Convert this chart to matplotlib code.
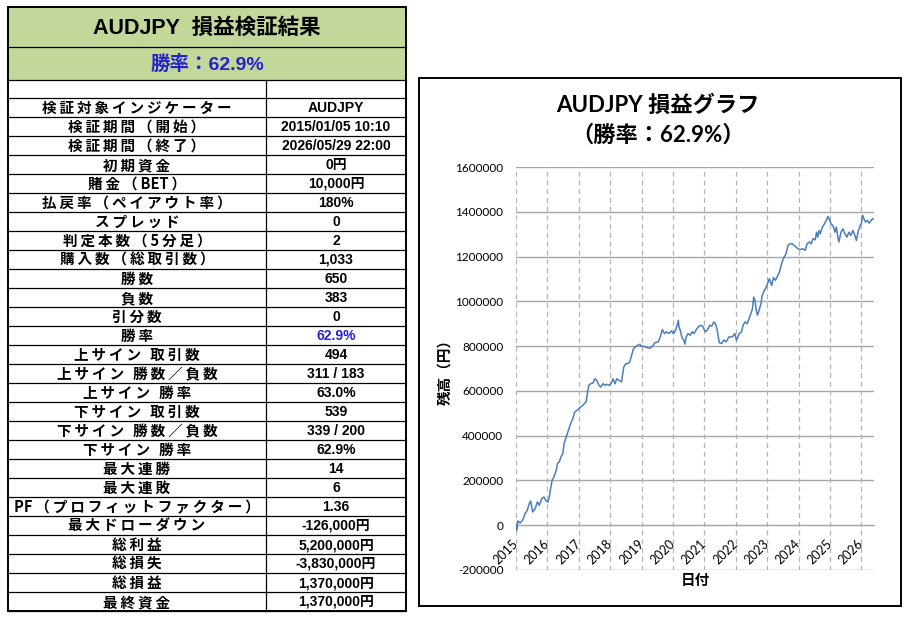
import matplotlib
matplotlib.use('Agg')
import matplotlib.pyplot as plt
from matplotlib.patches import Rectangle

# --- table data ---
title_text = 'AUDJPY  損益検証結果'
winrate_text = '勝率：62.9%'
row_labels = [
    '検証対象インジケーター', '検証期間（開始）', '検証期間（終了）', '初期資金',
    '賭金（BET）', '払戻率（ペイアウト率）', 'スプレッド', '判定本数（5分足）',
    '購入数（総取引数）', '勝数', '負数', '引分数', '勝率',
    '上サイン 取引数', '上サイン 勝数／負数', '上サイン 勝率',
    '下サイン 取引数', '下サイン 勝数／負数', '下サイン 勝率',
    '最大連勝', '最大連敗', 'PF（プロフィットファクター）', '最大ドローダウン',
    '総利益', '総損失', '総損益', '最終資金',
]
row_values = [
    'AUDJPY', '2015/01/05 10:10', '2026/05/29 22:00', '0円',
    '10,000円', '180%', '0', '2',
    '1,033', '650', '383', '0', '62.9%',
    '494', '311 / 183', '63.0%',
    '539', '339 / 200', '62.9%',
    '14', '6', '1.36', '-126,000円',
    '5,200,000円', '-3,830,000円', '1,370,000円', '1,370,000円',
]
blue_rows = ['勝率']

# --- chart data (balance) ---
years = [
    2015.01, 2015.02, 2015.06, 2015.13, 2015.21, 2015.29, 2015.36, 2015.43, 2015.47, 2015.53,
    2015.61, 2015.68, 2015.74, 2015.82, 2015.89, 2015.96, 2016.02, 2016.06, 2016.11, 2016.15,
    2016.21, 2016.28, 2016.32, 2016.38, 2016.43, 2016.49, 2016.53, 2016.60, 2016.67, 2016.74,
    2016.81, 2016.87, 2016.94, 2017.00, 2017.06, 2017.13, 2017.17, 2017.23, 2017.28, 2017.32,
    2017.38, 2017.45, 2017.51, 2017.57, 2017.64, 2017.70, 2017.77, 2017.83, 2017.89, 2017.96,
    2018.02, 2018.09, 2018.15, 2018.21, 2018.28, 2018.36, 2018.43, 2018.49, 2018.55, 2018.62,
    2018.68, 2018.74, 2018.81, 2018.87, 2018.94, 2019.00,
    2019.05, 2019.16, 2019.26, 2019.35, 2019.42, 2019.53, 2019.60, 2019.66, 2019.73, 2019.79,
    2019.87, 2019.95, 2020.02, 2020.08, 2020.13, 2020.17, 2020.19, 2020.23, 2020.28, 2020.34,
    2020.38, 2020.42, 2020.48, 2020.55, 2020.61, 2020.67, 2020.73, 2020.82, 2020.90, 2020.96,
    2021.02, 2021.09, 2021.17, 2021.23, 2021.30, 2021.35, 2021.40, 2021.44, 2021.48, 2021.55,
    2021.62, 2021.69, 2021.78,
    2021.89, 2021.97, 2022.02, 2022.11, 2022.18, 2022.23, 2022.29, 2022.36, 2022.42, 2022.48,
    2022.53, 2022.57, 2022.61, 2022.65, 2022.69, 2022.74, 2022.80, 2022.84, 2022.91, 2022.97,
    2023.03, 2023.07, 2023.14, 2023.20, 2023.26, 2023.34, 2023.39, 2023.43, 2023.47, 2023.54,
    2023.60, 2023.66, 2023.73, 2023.79, 2023.86, 2023.92, 2023.98, 2024.04, 2024.13, 2024.21,
    2024.27, 2024.34, 2024.40, 2024.46, 2024.53, 2024.57, 2024.61, 2024.65, 2024.69, 2024.76,
    2024.82, 2024.88, 2024.93, 2024.97, 2025.03, 2025.09, 2025.16, 2025.20, 2025.24, 2025.28,
    2025.35, 2025.41, 2025.47, 2025.54, 2025.60, 2025.66, 2025.73, 2025.79, 2025.84, 2025.89,
    2025.96, 2026.00, 2026.04, 2026.08, 2026.13, 2026.19, 2026.25, 2026.32, 2026.38,
]
balance = [
    0, -22000, 19000, 10000, 22000, 52000, 67000, 100000, 108000, 59000,
    74000, 104000, 89000, 119000, 126000, 108000, 104000, 126000, 171000, 201000,
    216000, 245000, 275000, 283000, 305000, 320000, 364000, 394000, 424000, 454000,
    476000, 506000, 513000, 520000, 529000, 535000, 543000, 550000, 595000, 625000,
    632000, 635000, 654000, 647000, 625000, 617000, 632000, 625000, 629000, 625000,
    632000, 654000, 632000, 654000, 647000, 640000, 706000, 721000, 721000, 728000,
    758000, 788000, 798000, 803000, 808000, 798000,
    800000, 794000, 790000, 800000, 815000, 819000, 844000, 874000, 856000, 864000,
    856000, 868000, 856000, 871000, 893000, 915000, 886000, 871000, 841000, 827000,
    809000, 841000, 856000, 849000, 864000, 856000, 871000, 889000, 893000, 886000,
    864000, 871000, 893000, 889000, 908000, 900000, 878000, 841000, 815000, 812000,
    827000, 819000, 841000,
    841000, 856000, 826000, 856000, 863000, 893000, 908000, 900000, 923000, 945000,
    967000, 1019000, 1004000, 960000, 938000, 960000, 990000, 1027000, 1049000, 1064000,
    1086000, 1101000, 1071000, 1106000, 1094000, 1116000, 1131000, 1153000, 1175000, 1198000,
    1213000, 1250000, 1257000, 1257000, 1250000, 1242000, 1235000, 1231000, 1235000, 1228000,
    1257000, 1265000, 1257000, 1280000, 1275000, 1309000, 1287000, 1317000, 1302000, 1332000,
    1346000, 1361000, 1379000, 1369000, 1346000, 1339000, 1309000, 1332000, 1294000, 1265000,
    1309000, 1324000, 1302000, 1287000, 1309000, 1294000, 1317000, 1294000, 1272000, 1309000,
    1339000, 1349000, 1384000, 1369000, 1354000, 1361000, 1349000, 1364000, 1369000,
]
year_ticks = list(range(2015, 2027))
y_ticks = [-200000, 0, 200000, 400000, 600000, 800000, 1000000, 1200000, 1400000, 1600000]
chart_title1 = 'AUDJPY 損益グラフ'
chart_title2 = '（勝率：62.9%）'
x_label = '日付'
y_label = '残高（円）'

JP = ['Noto Sans CJK JP', 'DejaVu Sans']
VAL = ['Liberation Sans', 'Noto Sans CJK JP']
CH = ['Lato', 'Noto Sans CJK JP']


def spread(s):
    # add thin spaces between characters, like the wide spaced Excel font
    out = s[0]
    for a, b in zip(s, s[1:]):
        if not (a.isascii() and b.isascii()):
            out += '\u2009'
        out += b
    return out


W, H = 911, 617
fig = plt.figure(figsize=(W / 100, H / 100), dpi=100)

# full-figure pixel axes for table and chart frame
bg = fig.add_axes([0, 0, 1, 1])
bg.set_xlim(0, W)
bg.set_ylim(H, 0)
bg.axis('off')

green = '#c4d79b'
tl, tr, tt, tb = 8, 406, 7, 611
mid = 266
row_h = 19
first = 98

bg.add_patch(Rectangle((tl, tt), tr - tl, 80 - tt, facecolor=green, edgecolor='none'))
bg.text((tl + tr) / 2, 28, title_text, ha='center', va='center', fontsize=15.5,
        fontweight='bold', family=VAL, color='black')
bg.text((tl + tr) / 2, 64, winrate_text, ha='center', va='center', fontsize=14,
        fontweight='bold', family=VAL, color='#2424cc')

# horizontal lines
hl = [47, 80] + [first + i * row_h for i in range(len(row_labels) + 1)]
for y in hl:
    bg.plot([tl, tr], [y, y], color='black', lw=0.9)
bg.plot([mid, mid], [80, tb], color='black', lw=0.9)
bg.add_patch(Rectangle((tl, tt), tr - tl, tb - tt, facecolor='none', edgecolor='black', lw=1.4))

for i, (lab, val) in enumerate(zip(row_labels, row_values)):
    yc = first + i * row_h + row_h / 2 + 0.5
    bg.text((tl + mid) / 2, yc, spread(lab), ha='center', va='center', fontsize=10.5,
            fontweight='bold', family=JP, color='black')
    col = '#2424cc' if lab in blue_rows else 'black'
    bg.text((mid + tr) / 2, yc, val, ha='center', va='center', fontsize=10,
            fontweight='bold', family=VAL, color=col)

# chart frame
bg.add_patch(Rectangle((419, 78), 482, 528, facecolor='white', edgecolor='black', lw=1.4, zorder=0))
bg.text(658, 105, chart_title1, ha='center', va='center', fontsize=16, fontweight='bold', family=CH)
bg.text(658, 135, chart_title2, ha='center', va='center', fontsize=16, fontweight='bold', family=CH)

# line chart
ax = fig.add_axes([516 / W, 1 - 570 / H, (874 - 516) / W, (570 - 167) / H])
ax.set_facecolor('none')
for s in ['top', 'right', 'left']:
    ax.spines[s].set_visible(False)
ax.spines['bottom'].set_position(('data', 0))
ax.spines['bottom'].set_color('#a6a6a6')

ax.plot(years, balance, color='#4a7ebb', lw=1.1, zorder=3)
ax.set_xlim(2015.0, 2026.40)
ax.set_ylim(-200000, 1600000)
ax.set_yticks(y_ticks)
ax.set_yticklabels([str(v) for v in y_ticks], family=CH, fontsize=8.5)
ax.set_xticks(year_ticks)
ax.set_xticklabels([str(y) for y in year_ticks], family=CH, fontsize=9,
                   rotation=45, ha='right', va='center', rotation_mode='anchor')
for v in y_ticks:
    ax.axhline(v, color='#a6a6a6', lw=1.0, zorder=1)
for yr in year_ticks:
    ax.axvline(yr, color='#b4b4b4', lw=0.9, ls=(0, (4, 3)), zorder=1)
ax.tick_params(axis='y', length=0, pad=9)
ax.tick_params(axis='x', length=0, pad=12)
ax.text(0.5, -0.025, x_label, transform=ax.transAxes, ha='center', va='center',
        fontsize=10.5, fontweight='bold', family=JP)
ax.text(-0.2, 0.5, y_label, transform=ax.transAxes, ha='center', va='center',
        rotation=90, fontsize=10.5, fontweight='bold', family=JP)

fig.savefig('out.png', dpi=100)
